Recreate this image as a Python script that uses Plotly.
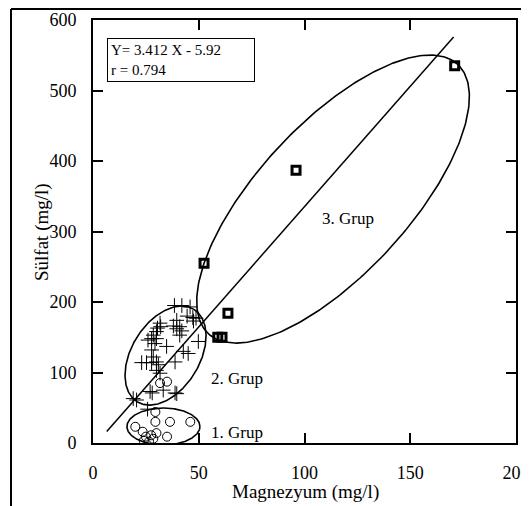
import numpy as np
import plotly.graph_objects as go

# ---- data ----
cross_x = [38.5, 42, 45.9, 44.5, 47.2, 47.5, 39.6, 31.7, 32, 30.5, 38, 39.6, 41, 42, 30,
           28.5, 27.7, 26, 30, 41, 49.8, 29.3, 34.8, 27.7, 42.7, 45, 28.5, 23, 25.3, 27.7,
           30, 30.9, 38.8, 30, 31.7, 27, 33.2, 39.6, 28, 38.8, 19, 20.6, 25.8, 48.7]
cross_y = [195, 195, 193, 180, 178, 173, 174, 170, 165, 163, 166, 162, 165, 159, 158,
           153, 148, 146, 148, 153, 144, 141, 137, 132, 130, 127, 122, 114, 114, 114,
           115, 111, 115, 103, 99, 73, 75, 70, 71, 71, 63, 61, 48, 177]

circle_x = [20, 23.5, 25, 27.5, 30, 35, 29.5, 36.4, 46, 29.5, 24, 26.5, 28.5, 31.7, 35]
circle_y = [23, 16, 9, 11, 14, 9, 30, 30, 30, 44, 3, 2, 6, 85, 87]

square_x = [171, 96, 52.5, 63.8, 59, 61]
square_y = [535, 387, 255, 184, 150, 150]

slope, intercept, r_val = 3.412, -5.92, 0.794
line_x = [6.5, 170.5]

x_ticks = [0, 50, 100, 150, 200]
y_ticks = [0, 100, 200, 300, 400, 500, 600]

# ellipse outlines: centre (data), semi-axes (px), angle (deg)
ellipses = [
    (33.3, 23.4, 36.5, 18.5, 0.0),
    (34.3, 124.0, 54.2, 34.0, 58.5),
    (113.5, 346.0, 183.5, 75.2, 47.2),
]
group_labels = ["1. Grup", "2. Grup", "3. Grup"]
group_pos = [(54.8, 15.6), (54.8, 92), (107.3, 319)]

OFF = 8                      # page body margin
W, H = 529 - OFF, 506 - OFF
L, R, T, B = 85, 13, 12, 63
pw, ph = W - L - R, H - T - B
sx, sy = pw / 200.0, ph / 600.0


def px2paper(xp, yp):
    """page pixel -> paper coords"""
    return (xp - OFF - L) / pw, (H - B - (yp - OFF)) / ph


FONT = "Liberation Serif"

fig = go.Figure()

for cx, cy, a, b, ang in ellipses:
    t = np.linspace(0, 2 * np.pi, 300)
    th = np.deg2rad(ang)
    px = a * np.cos(t) * np.cos(th) - b * np.sin(t) * np.sin(th)
    py = a * np.cos(t) * np.sin(th) + b * np.sin(t) * np.cos(th)
    fig.add_trace(go.Scatter(x=cx + px / sx, y=cy + py / sy, mode="lines",
                             line=dict(color="black", width=1.6),
                             hoverinfo="skip", showlegend=False))

lx = np.array(line_x)
fig.add_trace(go.Scatter(x=lx, y=slope * lx + intercept, mode="lines",
                         line=dict(color="black", width=1.5), showlegend=False))

fig.add_trace(go.Scatter(x=cross_x, y=cross_y, mode="markers",
                         marker=dict(symbol="cross-thin", size=10.5,
                                     line=dict(color="black", width=1)),
                         showlegend=False))
fig.add_trace(go.Scatter(x=circle_x, y=circle_y, mode="markers",
                         marker=dict(symbol="circle-open", size=9, color="black",
                                     line=dict(color="black", width=1)),
                         showlegend=False))
fig.add_trace(go.Scatter(x=square_x, y=square_y, mode="markers",
                         marker=dict(symbol="square-open", size=8, color="black",
                                     line=dict(color="black", width=3)),
                         showlegend=False))

for txt, (gx, gy) in zip(group_labels, group_pos):
    fig.add_annotation(x=gx, y=gy, text=txt, showarrow=False, xanchor="left",
                       yanchor="middle", font=dict(family=FONT, size=17, color="black"))

bx, by = px2paper(107, 38)
fig.add_annotation(xref="paper", yref="paper", x=bx, y=by,
                   xanchor="left", yanchor="top", align="left", showarrow=False,
                   text=f"Y= {slope} X - {abs(intercept)}<br>r = {r_val}",
                   font=dict(family=FONT, size=15, color="black"),
                   bordercolor="black", borderwidth=1, borderpad=3, width=140,
                   bgcolor="white")

# axis titles
tx, ty = px2paper(305, 492)
fig.add_annotation(xref="paper", yref="paper", x=tx, y=ty, text="Magnezyum (mg/l)",
                   showarrow=False, xanchor="center", yanchor="middle",
                   font=dict(family=FONT, size=19, color="black"))
tx, ty = px2paper(42, 232)
fig.add_annotation(xref="paper", yref="paper", x=tx, y=ty, text="Sülfat (mg/l)",
                   showarrow=False, xanchor="center", yanchor="middle", textangle=-90,
                   font=dict(family=FONT, size=19, color="black"))

# outer frame lines
x_left, _ = px2paper(11, 0)
_, y_top = px2paper(0, 9)
_, y_bot = px2paper(0, 520)
x_right, _ = px2paper(540, 0)
fig.add_shape(type="line", xref="paper", yref="paper", x0=x_left, x1=x_left,
              y0=y_top, y1=y_bot, line=dict(color="black", width=2))
fig.add_shape(type="line", xref="paper", yref="paper", x0=x_left, x1=x_right,
              y0=y_top, y1=y_top, line=dict(color="black", width=2))

axis_common = dict(showgrid=False, zeroline=False, showline=True, linecolor="black",
                   linewidth=2, mirror="allticks", ticks="inside", ticklen=10,
                   tickwidth=1.5, tickcolor="black", automargin=False,
                   ticklabeloverflow="allow",
                   tickfont=dict(family=FONT, size=18, color="black"))
fig.update_xaxes(range=[0, 200], tickvals=x_ticks, ticklabelstandoff=12, **axis_common)
fig.update_yaxes(range=[0, 600], tickvals=y_ticks, ticklabelstandoff=11, **axis_common)

fig.update_layout(width=W, height=H, margin=dict(l=L, r=R, t=T, b=B, autoexpand=False),
                  font=dict(family=FONT, color="black"),
                  paper_bgcolor="white", plot_bgcolor="white", showlegend=False)

fig.write_html("out.html")
